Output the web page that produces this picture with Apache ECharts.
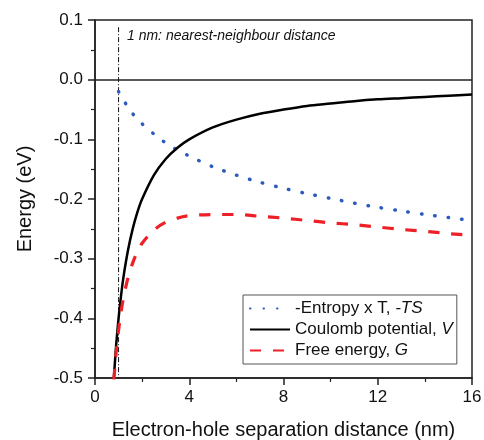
<!DOCTYPE html>
<html>
<head>
<meta charset="utf-8">
<script src="https://cdn.jsdelivr.net/npm/echarts@6/dist/echarts.min.js"></script>
<style>
  html, body { margin: 0; padding: 0; background: #fff; }
  #chart { width: 484px; height: 440px; }
</style>
</head>
<body>
<div id="chart"></div>
<script>
// values
const tsX = [1, 1.5, 2, 2.5, 3, 3.5, 4, 5, 6, 7, 8, 9, 10, 11, 12, 13, 14, 15, 16]
const tsY = [-0.020, -0.052, -0.074, -0.091, -0.106, -0.118, -0.128, -0.146, -0.160, -0.172, -0.182, -0.191, -0.199, -0.207, -0.214, -0.220, -0.226, -0.231, -0.236]

const vX = [0.8, 0.85, 0.9, 1.0, 1.1, 1.2, 1.4, 1.6, 1.8, 2.0, 2.5, 3.0, 3.5, 4, 5, 6, 7, 8, 9, 10, 11, 12, 13, 14, 15, 16]
const vY = [-0.500, -0.471, -0.444, -0.400, -0.364, -0.333, -0.286, -0.250, -0.222, -0.200, -0.160, -0.133, -0.114, -0.100, -0.080, -0.067, -0.057, -0.050, -0.044, -0.040, -0.036, -0.033, -0.031, -0.029, -0.027, -0.025]

const gX = [0.8, 0.9, 1.0, 1.1, 1.2, 1.4, 1.6, 1.8, 2.0, 2.5, 3.0, 3.5, 4, 5, 6, 7, 8, 9, 10, 11, 12, 13, 14, 15, 16]
const gY = [-0.503, -0.456, -0.420, -0.391, -0.367, -0.332, -0.307, -0.288, -0.274, -0.252, -0.239, -0.232, -0.228, -0.226, -0.226, -0.229, -0.232, -0.236, -0.240, -0.243, -0.247, -0.251, -0.254, -0.258, -0.261]

// nearest-neighbour marker (x = 1 nm)
const nnX = [1, 1]
const nnY = [0.088, -0.5]

const names = ['-Entropy x T, -TS', 'Coulomb potential, V', 'Free energy, G']
const legendRich = {
  '-Entropy x T, -TS': '{n|-Entropy x T, }{i|-TS}',
  'Coulomb potential, V': '{n|Coulomb potential, }{i|V}',
  'Free energy, G': '{n|Free energy, }{i|G}'
}

const zip = (xs, ys) => xs.map((x, i) => [x, ys[i]])
const font = '"Liberation Sans", Arial, sans-serif'

const chart = echarts.init(document.getElementById('chart'))

const option = {
  animation: false,
  textStyle: { fontFamily: font },
  grid: {
    left: 95, right: 12, top: 20, bottom: 62,
    outerBoundsMode: 'none',
    show: true, borderColor: '#222', borderWidth: 1.5
  },
  graphic: [{
    type: 'text',
    left: 127, top: 29,
    style: {
      text: '1 nm: nearest-neighbour distance',
      font: 'italic 14px "Liberation Sans", Arial, sans-serif',
      fill: '#111'
    }
  }],
  legend: {
    data: names,
    orient: 'vertical',
    left: 243, top: 295,
    padding: [5, 4, 5, 6],
    itemGap: 4,
    itemWidth: 40,
    itemHeight: 17,
    borderColor: '#555',
    borderWidth: 1,
    backgroundColor: '#fff',
    itemStyle: { opacity: 0 },
    formatter: name => legendRich[name],
    textStyle: {
      fontSize: 17, color: '#111', fontFamily: font,
      rich: {
        n: { fontSize: 17, color: '#111', fontFamily: font },
        i: { fontSize: 17, color: '#111', fontFamily: font, fontStyle: 'italic' }
      }
    }
  },
  xAxis: {
    type: 'value',
    min: 0, max: 16, interval: 4,
    name: 'Electron-hole separation distance (nm)',
    nameLocation: 'middle',
    nameGap: 42,
    nameTextStyle: { fontSize: 20, color: '#111', fontFamily: font },
    axisLine: { show: true, onZero: false, lineStyle: { color: '#222', width: 1.5 } },
    axisTick: { show: true, inside: false, length: 7, lineStyle: { color: '#222', width: 1.5 } },
    minorTick: { show: true, splitNumber: 2, length: 4, lineStyle: { color: '#222', width: 1.2 } },
    axisLabel: { fontSize: 17, color: '#111', margin: 11 },
    splitLine: { show: false }
  },
  yAxis: {
    type: 'value',
    min: -0.5, max: 0.1, interval: 0.1,
    name: 'Energy (eV)',
    nameLocation: 'middle',
    nameGap: 60,
    nameTextStyle: { fontSize: 20, color: '#111', fontFamily: font },
    axisLine: { show: true, onZero: false, lineStyle: { color: '#222', width: 1.5 } },
    axisTick: { show: true, inside: false, length: 7, lineStyle: { color: '#222', width: 1.5 } },
    minorTick: { show: true, splitNumber: 2, length: 4, lineStyle: { color: '#222', width: 1.2 } },
    axisLabel: {
      fontSize: 17, color: '#111', margin: 12,
      formatter: v => (Math.abs(v) < 1e-9 ? 0 : v).toFixed(1)
    },
    splitLine: { show: false }
  },
  series: [
    {
      name: 'nn',
      type: 'line',
      data: zip(nnX, nnY),
      symbol: 'none',
      silent: true,
      lineStyle: { color: '#111', width: 1, type: [5, 2, 1, 2] },
      z: 1
    },
    {
      name: names[0],
      type: 'line',
      data: zip(tsX, tsY),
      symbol: 'none',
      smooth: 0.3,
      lineStyle: { color: '#2d5bbd', width: 3.5, type: [0.5, 13], cap: 'round' },
      itemStyle: { color: '#2d5bbd' },
      z: 2
    },
    {
      name: names[1],
      type: 'line',
      data: zip(vX, vY),
      symbol: 'none',
      smooth: 0.3,
      lineStyle: { color: '#000', width: 2.5 },
      itemStyle: { color: '#000' },
      markLine: {
        silent: true,
        symbol: 'none',
        label: { show: false },
        lineStyle: { color: '#222', width: 1.5, type: 'solid' },
        data: [{ yAxis: 0 }]
      },
      z: 3
    },
    {
      name: names[2],
      type: 'line',
      data: zip(gX, gY),
      symbol: 'none',
      smooth: 0.3,
      lineStyle: { color: '#ee1f26', width: 3.2, type: [11, 12] },
      itemStyle: { color: '#ee1f26' },
      z: 4
    }
  ]
}

chart.setOption(option)
</script>
</body>
</html>
